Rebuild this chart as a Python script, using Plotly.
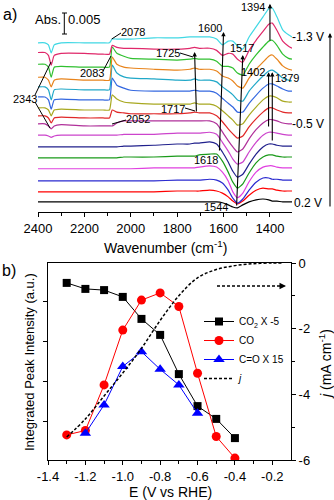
import plotly.graph_objects as go

W, H = 334, 500
FONT = "Arial, 'Liberation Sans', sans-serif"

# ---------------- panel a data: stacked IR spectra (absorbance in mAbs) ----------------
wavenumber = [2400, 2370, 2355, 2343, 2330, 2300, 2200, 2120, 2092, 2080, 2060, 2030, 2000,
              1900, 1800, 1745, 1725, 1705, 1660, 1630, 1605, 1580, 1560, 1540, 1517, 1490,
              1460, 1430, 1405, 1390, 1370, 1345, 1320, 1305]

potentials = ["0.2", "0.1", "0.0", "-0.1", "-0.2", "-0.3", "-0.4", "-0.5",
              "-0.6", "-0.7", "-0.8", "-0.9", "-1.0", "-1.1", "-1.2", "-1.3"]
stack_offset = [2.4, 5.0, 7.6, 10.5, 13.1, 15.7, 18.3, 21.0,
                23.6, 26.2, 28.8, 31.2, 33.8, 36.4, 39.0, 41.7]

spec_p02 = [0]*19 + [0, -0.2, -0.7, -1.2, -1.4, -0.7, 0, 0.5, 0.7, 0.5, 0.2, 0.2, 0, 0, 0]
spec_p01 = [-0.2]*14 + [0, 0, 0, 0, 0.2, 0, -0.5, -1.4, -2.4, -3.1, -2.4, -1.0, 0.2, 0.7, 0.5, 0.5, 0.2, 0, 0, 0]
spec_p00 = [-0.2]*14 + [0, 0, 0, 0, 0.2, 0, -0.7, -2.4, -4.3, -5.5, -4.5, -2.4, -0.5, 0.5, 0.5, 0.2, 0.2, 0, 0, 0]
spec_m01 = [-0.2]*13 + [0, 0, 0, 0, 0.2, 0.5, 0.2, -1.0, -3.1, -5.7, -7.1, -6.0, -3.3, -1.0, 0.2, 0.5, 0.5, 0.2, 0, 0, 0]
spec_m02 = [-0.2]*11 + [0, 0, 0, 0.2, 0.2, 0.2, 0.5, 0.7, 0.7, -1.0, -3.6, -6.0, -7.4, -6.4, -3.8, -1.4, 0, 0.5, 0.5, 0.2, 0, 0, 0]
spec_m03 = [-0.2]*11 + [0, 0, 0.2, 0.5, 0.5, 0.7, 0.7, 1.0, 0.5, -1.4, -3.8, -6.0, -7.4, -6.7, -4.3, -1.9, -0.2, 0.5, 0.5, 0.2, 0, 0, 0]
spec_m04 = [0, 0, -0.2, -0.5, -0.2, 0, 0, 0, 0, 0, 0, 0.2, 0.2, 0.2, 0.5, 0.5, 0.5, 0.5, 0.7, 0.2,
            -1.7, -3.8, -5.7, -6.9, -6.4, -4.0, -1.7, 0, 0.7, 0.7, 0.5, 0.2, 0, 0]
spec_m05 = [0, 0, -0.5, -1.2, -0.5, -0.2, -0.5, -0.5, -0.5, -0.5, 0.2, 0.7, 0.7, 0.7, 0.7, 0.7, 0.7, 0.7, 0.7, 0,
            -1.9, -4.0, -5.5, -6.7, -6.0, -3.6, -1.4, 0.2, 1.0, 1.0, 0.7, 0.2, 0, 0]
spec_m06 = [-0.7, -0.7, -1.2, -2.4, -1.2, -1.0, -1.2, -1.2, -1.2, 0.7, 0.2, 0, -0.2, -0.2, -0.2, 0, 0.2, 0, 0, -0.7,
            -2.1, -3.8, -5.0, -6.0, -5.5, -3.3, -1.4, 0.2, 1.2, 1.2, 0.7, 0.2, 0, 0]
spec_m07 = [-1.4, -1.4, -1.9, -3.3, -1.9, -1.7, -1.9, -1.9, -1.9, 1.7, 0.7, 0, -0.2, -0.5, -0.5, -0.5, -0.2, -0.5, -0.5, -1.0,
            -2.1, -3.3, -4.3, -5.5, -5.2, -3.1, -1.2, 0.5, 1.4, 1.4, 1.0, 0.2, 0, 0]
spec_m08 = [-1.4, -1.4, -2.1, -4.3, -2.1, -1.9, -2.1, -2.1, -2.1, 3.1, 1.4, 0.7, 0.2, 0, 0, 0, 0.2, 0, 0, -0.5,
            -1.7, -2.9, -3.8, -5.0, -5.0, -2.9, -1.0, 0.7, 1.7, 1.7, 1.2, 0.5, 0, 0]
spec_m09 = [-1.4, -1.4, -2.1, -4.5, -2.1, -1.9, -2.1, -2.1, -2.1, 3.8, 1.9, 1.0, 0.7, 0.5, 0.2, 0.2, 0.5, 0.2, 0.2, -0.2,
            -1.4, -2.4, -3.3, -4.5, -4.8, -2.4, -0.5, 1.2, 2.4, 2.6, 1.9, 0.7, 0.2, 0]
spec_m10 = [-1.7, -1.7, -2.4, -4.0, -2.4, -2.1, -2.4, -2.4, -2.4, 3.1, 1.4, 0.7, 0.5, 0.2, 0, 0.2, 0.5, 0.2, 0.2, -0.2,
            -1.4, -1.9, -2.6, -3.8, -4.3, -1.9, 0.2, 1.9, 3.3, 3.6, 2.6, 1.0, 0.2, 0]
spec_m11 = [-1.2, -1.2, -1.9, -4.3, -1.9, -1.7, -1.9, -1.9, -1.9, 2.9, 1.4, 0.7, 0.2, 0, -0.2, 0, 0.2, 0, 0, -0.5,
            -1.7, -1.7, -2.1, -3.3, -3.8, -1.2, 1.0, 2.9, 4.3, 4.5, 3.3, 1.2, 0.2, 0]
spec_m12 = [-1.0, -1.0, -1.7, -4.0, -1.7, -1.2, -1.2, -1.4, -1.4, 0.7, 0.2, 0, 0, -0.2, -0.2, 0, 0.2, 0, 0, -0.5,
            -1.7, -1.2, -1.4, -2.6, -3.3, -0.5, 1.9, 4.0, 5.7, 6.0, 4.3, 1.7, 0.5, 0]
spec_m13 = [-1.4, -1.4, -1.9, -3.8, -1.9, -1.4, -1.4, -1.4, -1.4, -0.5, -0.5, -0.5, -0.5, -0.2, -0.2, 0, 0, 0, 0, -0.5,
            -1.9, -1.0, -1.0, -2.1, -2.9, 0, 2.4, 4.8, 6.7, 6.9, 4.8, 1.7, 0.5, 0]

spectra = [spec_p02, spec_p01, spec_p00, spec_m01, spec_m02, spec_m03, spec_m04, spec_m05,
           spec_m06, spec_m07, spec_m08, spec_m09, spec_m10, spec_m11, spec_m12, spec_m13]
spectrum_colors = ["#000000", "#ff0000", "#2a2ad0", "#e040e0", "#1a9a1a", "#20208c", "#cc44cc", "#b0309a",
                   "#e02828", "#a8a820", "#3468e0", "#20a8c8", "#e8841c", "#30c030", "#e0286a", "#40d8e4"]

# ---------------- panel b data ----------------
E = [-1.3, -1.2, -1.1, -1.0, -0.9, -0.8, -0.7, -0.6, -0.5, -0.4]
co2_x_m5 = [4.47, 4.32, 4.29, 4.12, 3.57, 3.17, 2.19, 1.39, 1.07, 0.59]
co = [0.67, 0.78, 1.92, 3.29, 4.04, 4.22, 3.88, 2.21, 0.63, 0.09]
E_cdo = [-1.2, -1.1, -1.0, -0.9, -0.8, -0.7, -0.6]
cdo_x15 = [0.71, 1.42, 2.38, 2.75, 2.31, 1.92, 1.21]
E_j = [-1.3, -1.2, -1.1, -1.0, -0.9, -0.8, -0.7, -0.6, -0.5, -0.4, -0.3, -0.2, -0.15]
j = [-5.3, -4.75, -4.05, -3.35, -2.6, -1.75, -1.0, -0.45, -0.2, -0.08, -0.02, 0.0, 0.0]

fig = go.Figure()
for spec, off, col in zip(spectra, stack_offset, spectrum_colors):
    fig.add_trace(go.Scatter(x=wavenumber, y=[v + off for v in spec], mode="lines",
                             line=dict(color=col, width=1.2, shape="spline", smoothing=0.5),
                             xaxis="x", yaxis="y", showlegend=False, hoverinfo="skip"))

fig.add_trace(go.Scatter(x=E, y=co2_x_m5, mode="lines+markers", name="CO<sub>2</sub> X -5",
                         line=dict(color="black", width=1), marker=dict(symbol="square", size=8, color="black"),
                         xaxis="x2", yaxis="y2"))
fig.add_trace(go.Scatter(x=E, y=co, mode="lines+markers", name="CO",
                         line=dict(color="red", width=1), marker=dict(symbol="circle", size=9, color="red"),
                         xaxis="x2", yaxis="y2"))
fig.add_trace(go.Scatter(x=E_cdo, y=cdo_x15, mode="lines+markers", name="C=O X 15",
                         line=dict(color="blue", width=1), marker=dict(symbol="triangle-up", size=10, color="blue"),
                         xaxis="x2", yaxis="y2"))
fig.add_trace(go.Scatter(x=E_j, y=j, mode="lines", name="<i>j</i>",
                         line=dict(color="black", width=1.5, dash="3px,2px", shape="spline"),
                         xaxis="x2", yaxis="y3"))


def fx(px):
    return px / W


def fy(py):
    return 1 - py / H


ann = []
shapes = []


def label(text, cx, cy, size=11, angle=0):
    ann.append(dict(text=text, x=fx(cx), y=fy(cy), xref="paper", yref="paper", showarrow=False,
                    textangle=angle, font=dict(size=size, color="black", family=FONT),
                    xanchor="center", yanchor="middle"))


def pline(x0, y0, x1, y1, dash="solid", width=1):
    shapes.append(dict(type="line", xref="paper", yref="paper", x0=fx(x0), y0=fy(y0), x1=fx(x1), y1=fy(y1),
                       line=dict(color="black", width=width, dash=dash)))


def data_arrow(xh, yh, xt, yt):
    ann.append(dict(text="", x=xh, y=yh, ax=xt, ay=yt, xref="x", yref="y", axref="x", ayref="y",
                    showarrow=True, arrowhead=2, arrowsize=0.8, arrowwidth=1.1, arrowcolor="black", standoff=0))


# panel a labels
label("a)", 10, 14, 16)
label("Abs.", 48, 19, 13)
label("0.005", 84, 19, 13)
for t, cx, cy in [("2078", 133, 32), ("2083", 92, 73), ("2343", 25, 99), ("2052", 138, 119),
                  ("1725", 168, 53), ("1717", 173, 109), ("1600", 210, 28), ("1517", 242, 48),
                  ("1394", 253, 7), ("1402", 253, 72), ("1379", 287, 78), ("1618", 206, 160),
                  ("1544", 216, 207)]:
    label(t, cx, cy, 11)
label("-1.3 V", 308, 37, 12)
label("-0.5 V", 308, 124, 12)
label("0.2 V", 308, 203, 12)
label("Wavenumber (cm<sup>-1</sup>)", 165, 247, 14)

# panel b labels / axis titles
label("b)", 9, 270, 16)
label("E (V vs RHE)", 170, 492, 14)
label("Integrated Peak Intensity (a.u.)", 29, 362, 13, -90)
label("<i>j</i> (mA cm<sup>-1</sup>)", 325, 364, 14, -90)

# scale bar
pline(64.3, 13, 64.3, 34)
pline(62, 13, 67, 13)
pline(62, 34, 67, 34)

# leader lines
pline(111.7, 39, 121, 33)
pline(103, 71, 111, 56)
pline(35, 95, 51, 62)
pline(35, 102, 50, 128)
pline(112, 124, 126, 120)
pline(180, 53, 193, 57)
pline(185, 108, 195, 111)

# band shift arrows (wavenumber, mAbs)
data_arrow(1725, 38.1, 1717, 23.6)
data_arrow(1600, 42.9, 1618, 14.3)
data_arrow(1517, 37.4, 1544, 1.2)
data_arrow(1406, 33.3, 1406, 20.0)
data_arrow(1390, 33.3, 1390, 16.7)
data_arrow(1400, 49.6, 1400, 40.5)

# potential direction arrow
ann.append(dict(text="", x=fx(330), y=fy(33), xref="paper", yref="paper", ax=0, ay=175,
                showarrow=True, arrowhead=2, arrowsize=0.8, arrowwidth=1.1, arrowcolor="black", standoff=0))

# panel b dashed arrow toward right axis
pline(217, 286, 281, 286, dash="3px,2px", width=1.3)
ann.append(dict(text="", x=fx(286), y=fy(286), xref="paper", yref="paper", ax=-6, ay=0,
                showarrow=True, arrowhead=2, arrowsize=1, arrowwidth=1.3, arrowcolor="black", standoff=0))

axis_common = dict(showline=True, linecolor="black", linewidth=1, ticks="outside", tickcolor="black",
                   showgrid=False, zeroline=False, automargin=False,
                   tickfont=dict(size=13, color="black", family=FONT))

fig.update_layout(
    width=W, height=H, margin=dict(l=0, r=0, t=0, b=0, autoexpand=False),
    paper_bgcolor="white", plot_bgcolor="rgba(0,0,0,0)",
    font=dict(family=FONT, color="black"),
    xaxis=dict(domain=[38 / W, 292 / W], range=[2400, 1305], anchor="y", ticklen=4,
               tickvals=[2400, 2200, 2000, 1800, 1600, 1400],
               minor=dict(tickvals=[2300, 2100, 1900, 1700, 1500], ticks="outside", ticklen=2.5, tickcolor="black"),
               **axis_common),
    yaxis=dict(domain=[fy(212), 1.0], range=[0, 50.5], visible=False, anchor="x"),
    xaxis2=dict(domain=[48 / W, 291 / W], range=[-1.4, -0.1], anchor="y2", mirror=True, ticklen=4,
                tickvals=[-1.4, -1.2, -1.0, -0.8, -0.6, -0.4, -0.2],
                ticktext=["-1.4", "-1.2", "-1.0", "-0.8", "-0.6", "-0.4", "-0.2"],
                minor=dict(tickvals=[-1.3, -1.1, -0.9, -0.7, -0.5, -0.3], ticks="outside", ticklen=2.5,
                           tickcolor="black"),
                **axis_common),
    yaxis2=dict(domain=[fy(460), fy(263)], range=[0.0425, 4.9675], anchor="x2", ticklen=4,
                tickvals=[1, 2, 3, 4], showticklabels=False, **axis_common),
    yaxis3=dict(overlaying="y2", side="right", anchor="x2", range=[-6, 0], ticklen=4,
                tickvals=[-6, -4, -2, 0], ticktext=["-6", "-4", "-2", "0"],
                minor=dict(tickvals=[-5, -3, -1], ticks="outside", ticklen=2.5, tickcolor="black"),
                **axis_common),
    legend=dict(x=199 / W, y=fy(307), xanchor="left", yanchor="top", font=dict(size=10, family=FONT),
                bgcolor="rgba(0,0,0,0)", borderwidth=0, tracegroupgap=0, itemwidth=30),
    annotations=ann, shapes=shapes,
)

fig.write_html("out.html")
